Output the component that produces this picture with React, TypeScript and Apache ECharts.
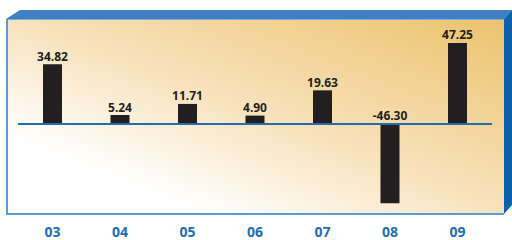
import React, { useEffect, useRef } from "react";
import * as echarts from "echarts";

const categories = ["03", "04", "05", "06", "07", "08", "09"];
const values = [34.82, 5.24, 11.71, 4.9, 19.63, -46.3, 47.25];
const yMin = -50;
const yMax = 55;

export default function App() {
  const ref = useRef<HTMLDivElement>(null);
  useEffect(() => {
    if (!ref.current) return;
    const chart = echarts.init(ref.current, undefined, { renderer: "svg" });
    const font = "Noto Sans";
    chart.setOption({
      animation: false,
      backgroundColor: "#ffffff",
      grid: { left: 18.75, right: 20.75, top: 29.71, bottom: 30.29, containLabel: false },
      graphic: [
        {
          type: "rect",
          z: -10,
          shape: { x: 6, y: 19, width: 498, height: 195 },
          style: {
            fill: new echarts.graphic.LinearGradient(0, 1, 1, 0, [
              { offset: 0, color: "#ffffff" },
              { offset: 0.2, color: "#ffffff" },
              { offset: 0.5, color: "#f8e3be" },
              { offset: 1, color: "#ecc26c" },
            ]),
          },
        },
        {
          type: "polygon",
          z: -9,
          shape: { points: [[6, 19], [504, 19], [512, 10], [20, 10]] },
          style: { fill: "#3f80c4" },
        },
        {
          type: "line",
          z: -8,
          shape: { x1: 8, y1: 19.5, x2: 504, y2: 19.5 },
          style: { stroke: "#7aaedf", lineWidth: 1 },
        },
        {
          type: "polygon",
          z: -9,
          shape: { points: [[504, 19], [512, 10], [512, 205], [504, 214]] },
          style: { fill: "#0b62ab" },
        },
        {
          type: "line",
          z: -8,
          shape: { x1: 7, y1: 19, x2: 7, y2: 215 },
          style: { stroke: "#5b9bd5", lineWidth: 2 },
        },
        {
          type: "line",
          z: -8,
          shape: { x1: 6, y1: 214, x2: 504, y2: 214 },
          style: { stroke: "#5b9bd5", lineWidth: 2 },
        },
      ],
      xAxis: [
        {
          type: "category",
          data: categories,
          z: 5,
          axisLine: { show: true, onZero: true, lineStyle: { color: "#1f6db3", width: 2 } },
          axisTick: { show: false },
          axisLabel: { show: false },
          splitLine: { show: false },
        },
        {
          type: "category",
          data: categories,
          position: "bottom",
          axisLine: { show: false, onZero: false },
          axisTick: { show: false },
          axisLabel: {
            show: true,
            margin: 15,
            color: "#1d6fb8",
            fontFamily: font,
            fontWeight: "bold",
            fontSize: 14,
            lineHeight: 14,
          },
          splitLine: { show: false },
        },
      ],
      yAxis: {
        type: "value",
        min: yMin,
        max: yMax,
        show: false,
        splitLine: { show: false },
      },
      series: [
        {
          type: "bar",
          xAxisIndex: 0,
          data: values,
          barWidth: 19,
          itemStyle: { color: "#231f20" },
          label: {
            show: true,
            position: "top",
            distance: 2,
            color: "#231f20",
            fontFamily: font,
            fontWeight: "bold",
            fontSize: 12,
            formatter: (p: any) => Number(p.value).toFixed(2),
          },
        },
      ],
    });
    return () => chart.dispose();
  }, []);
  return (
    <div
      ref={ref}
      style={{ position: "absolute", left: 0, top: 0, width: 512, height: 240 }}
    />
  );
}
